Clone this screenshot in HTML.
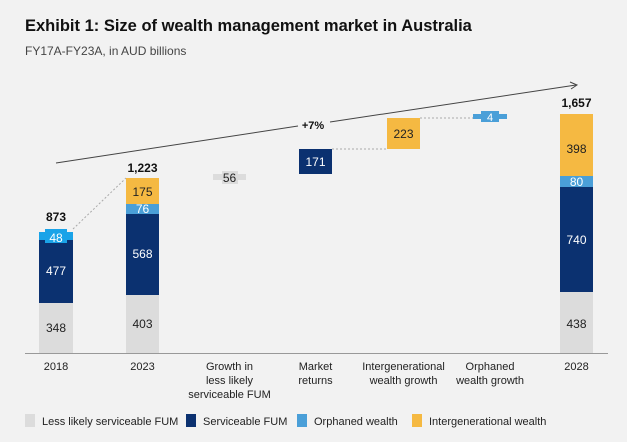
<!DOCTYPE html>
<html><head><meta charset="utf-8"><style>
html,body{margin:0;padding:0;background:#f2f2f2;}
svg{display:block;font-family:"Liberation Sans",sans-serif;}
</style></head><body>
<svg width="627" height="442" viewBox="0 0 627 442">
<rect width="627" height="442" fill="#f2f2f2"/>
<text x="25" y="31" font-size="16.5" font-weight="bold" fill="#111">Exhibit 1: Size of wealth management market in Australia</text>
<text x="25" y="55" font-size="12" fill="#444">FY17A-FY23A, in AUD billions</text>
<line x1="56" y1="163" x2="298" y2="126" stroke="#444" stroke-width="1"/>
<line x1="330" y1="122" x2="576" y2="85" stroke="#444" stroke-width="1"/>
<polyline points="570,82 577,85 571,89" fill="none" stroke="#444" stroke-width="1"/>
<text x="313" y="129" font-size="11" font-weight="bold" fill="#111" text-anchor="middle">+7%</text>
<g stroke="#aaa" stroke-width="1" stroke-dasharray="2,2">
<line x1="73" y1="229" x2="126" y2="178"/>
<line x1="332" y1="149" x2="387" y2="149"/>
<line x1="420" y1="118" x2="473" y2="118"/>
</g>
<rect x="39" y="303" width="34" height="50" fill="#dcdcdc"/>
<rect x="39" y="240" width="34" height="63" fill="#0b3170"/>
<rect x="39" y="232" width="34" height="8" fill="#1aa3e8"/>
<rect x="45" y="229" width="22" height="14" fill="#1aa3e8"/>
<text x="56" y="332" font-size="12" fill="#222" text-anchor="middle">348</text>
<text x="56" y="275" font-size="12" fill="#fff" text-anchor="middle">477</text>
<text x="56" y="242" font-size="12" fill="#fff" text-anchor="middle">48</text>
<text x="56" y="221" font-size="12" font-weight="bold" fill="#111" text-anchor="middle">873</text>
<rect x="126" y="295" width="33" height="58" fill="#dcdcdc"/>
<rect x="126" y="214" width="33" height="81" fill="#0b3170"/>
<rect x="126" y="204" width="33" height="10" fill="#4a9fd8"/>
<rect x="126" y="178" width="33" height="26" fill="#f5b942"/>
<text x="142.5" y="328" font-size="12" fill="#222" text-anchor="middle">403</text>
<text x="142.5" y="258" font-size="12" fill="#fff" text-anchor="middle">568</text>
<text x="142.5" y="213" font-size="12" fill="#fff" text-anchor="middle">76</text>
<text x="142.5" y="196" font-size="12" fill="#222" text-anchor="middle">175</text>
<text x="142.5" y="172" font-size="12" font-weight="bold" fill="#111" text-anchor="middle">1,223</text>
<rect x="213" y="174" width="33" height="6" fill="#dcdcdc"/>
<rect x="222" y="171" width="16" height="13" fill="#dcdcdc"/>
<text x="229.5" y="182" font-size="12" fill="#222" text-anchor="middle">56</text>
<rect x="299" y="149" width="33" height="25" fill="#0b3170"/>
<text x="315.5" y="166" font-size="12" fill="#fff" text-anchor="middle">171</text>
<rect x="387" y="118" width="33" height="31" fill="#f5b942"/>
<text x="403.5" y="138" font-size="12" fill="#222" text-anchor="middle">223</text>
<rect x="473" y="114" width="34" height="5" fill="#4a9fd8"/>
<rect x="481" y="111" width="18" height="11" fill="#4a9fd8"/>
<text x="490" y="121" font-size="11" fill="#fff" text-anchor="middle">4</text>
<rect x="560" y="292" width="33" height="61" fill="#dcdcdc"/>
<rect x="560" y="187" width="33" height="105" fill="#0b3170"/>
<rect x="560" y="176" width="33" height="11" fill="#4a9fd8"/>
<rect x="560" y="114" width="33" height="62" fill="#f5b942"/>
<text x="576.5" y="328" font-size="12" fill="#222" text-anchor="middle">438</text>
<text x="576.5" y="244" font-size="12" fill="#fff" text-anchor="middle">740</text>
<text x="576.5" y="186" font-size="12" fill="#fff" text-anchor="middle">80</text>
<text x="576.5" y="153" font-size="12" fill="#222" text-anchor="middle">398</text>
<text x="576.5" y="107" font-size="12" font-weight="bold" fill="#111" text-anchor="middle">1,657</text>
<line x1="25" y1="353.5" x2="608" y2="353.5" stroke="#999" stroke-width="1"/>
<g font-size="11" fill="#222" text-anchor="middle">
<text x="56" y="370">2018</text>
<text x="142.5" y="370">2023</text>
<text x="229.5" y="370">Growth in</text>
<text x="229.5" y="384">less likely</text>
<text x="229.5" y="398">serviceable FUM</text>
<text x="315.5" y="370">Market</text>
<text x="315.5" y="384">returns</text>
<text x="403.5" y="370">Intergenerational</text>
<text x="403.5" y="384">wealth growth</text>
<text x="490" y="370">Orphaned</text>
<text x="490" y="384">wealth growth</text>
<text x="576.5" y="370">2028</text>
</g>
<g font-size="11" fill="#222">
<rect x="25" y="414" width="10" height="13" fill="#dcdcdc"/>
<text x="42" y="425">Less likely serviceable FUM</text>
<rect x="186" y="414" width="10" height="13" fill="#0b3170"/>
<text x="203" y="425">Serviceable FUM</text>
<rect x="297" y="414" width="10" height="13" fill="#4a9fd8"/>
<text x="314" y="425">Orphaned wealth</text>
<rect x="412" y="414" width="10" height="13" fill="#f5b942"/>
<text x="429" y="425">Intergenerational wealth</text>
</g>
</svg>
</body></html>
